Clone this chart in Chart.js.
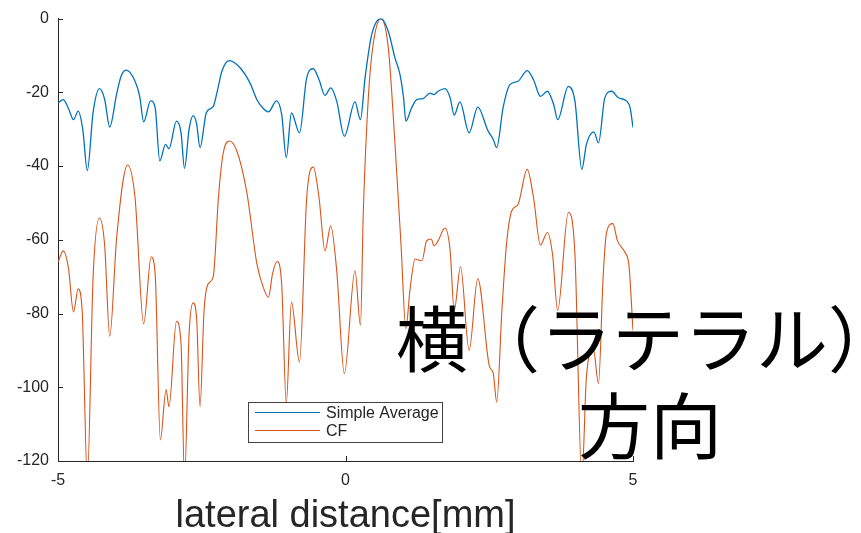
<!DOCTYPE html>
<html>
<head>
<meta charset="utf-8">
<script src="https://cdn.jsdelivr.net/npm/chart.js@4/dist/chart.umd.min.js"></script>
<style>
  html, body { margin: 0; padding: 0; background: #ffffff; }
  #wrap { position: relative; width: 861px; height: 533px; }
</style>
</head>
<body>
<div id="wrap"><canvas id="c" width="861" height="533"></canvas></div>
<script>
// Lateral beam profile: distance [mm] vs. level [dB]
const xTicks = [-5, 0, 5];
const yTicks = [0, -20, -40, -60, -80, -100, -120];

const seriesNames = ['Simple Average', 'CF'];

// Simple Average (delay-and-sum) profile
const saX = [-5.00, -4.91, -4.82, -4.73, -4.65, -4.57, -4.49, -4.39, -4.28, -4.19, -4.10, -3.98, -3.90, -3.81,
  -3.66, -3.58, -3.51, -3.39, -3.31, -3.23, -3.13, -3.07, -2.94, -2.86, -2.80, -2.72, -2.65, -2.59, -2.53,
  -2.42, -2.30, -2.22, -2.15, -2.02, -1.83, -1.66, -1.54, -1.43, -1.34, -1.20, -1.11, -1.03, -0.94, -0.80,
  -0.675, -0.56, -0.46, -0.357, -0.257, -0.153, -0.02, 0.165, 0.26, 0.34, 0.455, 0.617, 0.745, 0.861, 0.948,
  1.01, 1.05, 1.15, 1.24, 1.35, 1.47, 1.54, 1.61, 1.73, 1.82, 1.89, 1.99, 2.15, 2.30, 2.48, 2.57, 2.63, 2.74,
  2.86, 3.00, 3.16, 3.27, 3.39, 3.51, 3.62, 3.69, 3.875, 3.99, 4.11, 4.19, 4.32, 4.40, 4.51, 4.63, 4.74, 4.89,
  4.95, 5.00];
const saDb = [-22.9, -22.0, -24.3, -27.4, -25.1, -30.0, -41.2, -25.5, -19.0, -21.8, -29.4, -20.4, -15.5, -14.0,
  -17.0, -21.0, -28.0, -22.3, -24.2, -38.6, -34.1, -35.3, -27.8, -31.0, -40.6, -30.0, -26.3, -28.5, -35.0,
  -25.5, -23.8, -19.0, -14.3, -11.4, -13.4, -17.5, -22.0, -24.4, -25.3, -22.3, -26.0, -37.7, -25.6, -31.0,
  -16.1, -13.6, -16.6, -20.8, -18.8, -22.4, -31.9, -22.6, -27.4, -16.1, -4.4, 0.0, -3.5, -10.7, -15.2,
  -21.5, -27.8, -24.2, -22.0, -21.7, -20.2, -20.6, -19.7, -19.0, -21.5, -26.2, -22.6, -31.0, -24.0, -30.5,
  -32.8, -35.0, -24.2, -17.9, -17.0, -14.1, -16.6, -21.1, -19.7, -23.3, -27.4, -18.4, -22.4, -40.9, -34.1,
  -30.7, -33.7, -21.5, -19.7, -21.4, -22.4, -24.2, -29.5];

// Coherence Factor (CF) weighted profile
const cfX = [-5.00, -4.91, -4.82, -4.73, -4.65, -4.58, -4.49, -4.39, -4.28, -4.19, -4.10, -3.98, -3.79, -3.66,
  -3.51, -3.38, -3.31, -3.22, -3.12, -3.07, -2.94, -2.86, -2.80, -2.72, -2.65, -2.59, -2.53, -2.46, -2.39,
  -2.30, -2.21, -2.13, -2.02, -1.89, -1.72, -1.54, -1.43, -1.34, -1.27, -1.19, -1.11, -1.03, -0.94, -0.80,
  -0.675, -0.56, -0.46, -0.357, -0.257, -0.153, -0.02, 0.165, 0.26, 0.31, 0.40, 0.48, 0.617, 0.745, 0.861,
  0.965, 1.05, 1.12, 1.21, 1.33, 1.41, 1.49, 1.54, 1.61, 1.73, 1.82, 1.89, 2.00, 2.15, 2.30, 2.50, 2.57, 2.63,
  2.72, 2.80, 2.89, 3.00, 3.16, 3.27, 3.39, 3.51, 3.60, 3.69, 3.875, 3.99, 4.11, 4.19, 4.31, 4.40, 4.48, 4.54,
  4.65, 4.73, 4.86, 4.93, 5.00];
const cfDb = [-66.1, -63.0, -67.5, -79.6, -73.3, -79.2, -125.0, -70.2, -54.1, -61.2, -86.2, -59.4, -39.7, -48.6,
  -82.8, -64.6, -69.3, -114.3, -100.6, -105.3, -82.1, -88.2, -125.0, -85.5, -77.1, -81.0, -105.3, -79.2, -72.0,
  -70.0, -48.6, -36.8, -33.2, -35.9, -46.8, -66.6, -72.9, -75.6, -69.3, -65.9, -72.0, -104.3, -76.9, -93.2,
  -48.6, -40.3, -48.6, -63.0, -56.2, -68.4, -96.3, -68.4, -83.2, -52.2, -20.6, -7.1, 0.0, -8.0, -34.1,
  -61.2, -84.1, -73.8, -65.2, -65.7, -60.3, -59.8, -61.6, -60.3, -56.8, -63.0, -79.2, -67.3, -90.0, -70.5,
  -94.1, -96.3, -104.0, -79.2, -61.2, -52.2, -50.4, -40.9, -48.6, -61.4, -58.0, -63.9, -79.2, -52.6, -63.9,
  -125.0, -97.2, -89.6, -99.0, -70.2, -58.0, -55.6, -60.3, -63.4, -67.0, -84.6];

const xTitle = 'lateral distance[mm]';
const noteLines = ['横（ラテラル）', '方向'];

const BLUE = '#0072BD';
const ORANGE = '#D95319';
const AXIS = '#262626';
const FAMILY = "'Liberation Sans', Arial, sans-serif";

const toPoints = (xs, ys) => xs.map((x, i) => ({ x: x, y: ys[i] }));

// Inward tick marks, axis title, in-plot legend box and the overlaid caption
const decorations = {
  id: 'decorations',
  afterDatasetsDraw(chart) {
    const { ctx, chartArea: a, scales: { x, y } } = chart;
    ctx.save();
    ctx.strokeStyle = AXIS;
    ctx.lineWidth = 1;
    ctx.beginPath();
    yTicks.forEach(v => {
      const py = Math.round(y.getPixelForValue(v)) + 0.5;
      ctx.moveTo(a.left, py);
      ctx.lineTo(a.left + 5, py);
    });
    xTicks.forEach(v => {
      const px = Math.round(x.getPixelForValue(v)) + 0.5;
      ctx.moveTo(px, a.bottom);
      ctx.lineTo(px, a.bottom - 5);
    });
    ctx.stroke();

    // legend box
    const lx = 248, ly = 402, lw = 194, lh = 40;
    ctx.fillStyle = '#ffffff';
    ctx.fillRect(lx, ly, lw, lh);
    ctx.strokeStyle = '#404040';
    ctx.strokeRect(lx + 0.5, ly + 0.5, lw, lh);
    const rows = [ly + 10.5, ly + 28.5];
    chart.data.datasets.forEach((ds, i) => {
      ctx.strokeStyle = ds.borderColor;
      ctx.lineWidth = 1.2;
      ctx.beginPath();
      ctx.moveTo(lx + 7, rows[i]);
      ctx.lineTo(lx + 72, rows[i]);
      ctx.stroke();
      ctx.fillStyle = AXIS;
      ctx.font = "16px " + FAMILY;
      ctx.textBaseline = 'middle';
      ctx.textAlign = 'left';
      ctx.fillText(ds.label, lx + 78, rows[i] + 1);
    });

    // x axis title
    ctx.fillStyle = AXIS;
    ctx.font = "38px " + FAMILY;
    ctx.textAlign = 'center';
    ctx.textBaseline = 'alphabetic';
    ctx.fillText(xTitle, x.getPixelForValue(0), 527);

    // caption
    ctx.fillStyle = '#000000';
    ctx.font = "72px 'Noto Sans CJK JP', sans-serif";
    ctx.textAlign = 'left';
    ctx.textBaseline = 'middle';
    ctx.fillText(noteLines[0], 396, 339);
    ctx.fillText(noteLines[1], 578, 426);
    ctx.restore();
  }
};

new Chart(document.getElementById('c'), {
  type: 'line',
  data: {
    datasets: [
      { label: seriesNames[0], data: toPoints(saX, saDb), borderColor: BLUE, backgroundColor: BLUE,
        borderWidth: 1.3, pointRadius: 0, cubicInterpolationMode: 'monotone', fill: false },
      { label: seriesNames[1], data: toPoints(cfX, cfDb), borderColor: ORANGE, backgroundColor: ORANGE,
        borderWidth: 1.1, pointRadius: 0, cubicInterpolationMode: 'monotone', fill: false }
    ]
  },
  options: {
    responsive: false,
    devicePixelRatio: 1,
    animation: false,
    layout: { padding: { left: 0, right: 228, top: 17, bottom: 0 } },
    plugins: { legend: { display: false }, tooltip: { enabled: false } },
    scales: {
      x: {
        type: 'linear', min: -5, max: 5,
        afterBuildTicks: s => { s.ticks = xTicks.map(v => ({ value: v })); },
        afterFit: s => { s.height = 72; },
        grid: { display: false, drawTicks: false },
        border: { display: true, color: AXIS, width: 1 },
        ticks: { color: AXIS, font: { family: FAMILY, size: 16 }, padding: 10, maxRotation: 0 }
      },
      y: {
        type: 'linear', min: -120, max: 0,
        afterBuildTicks: s => { s.ticks = yTicks.map(v => ({ value: v })); },
        afterFit: s => { s.width = 58; },
        grid: { display: false, drawTicks: false },
        border: { display: true, color: AXIS, width: 1 },
        ticks: { color: AXIS, font: { family: FAMILY, size: 16 }, padding: 9 }
      }
    }
  },
  plugins: [decorations]
});
</script>
</body>
</html>
